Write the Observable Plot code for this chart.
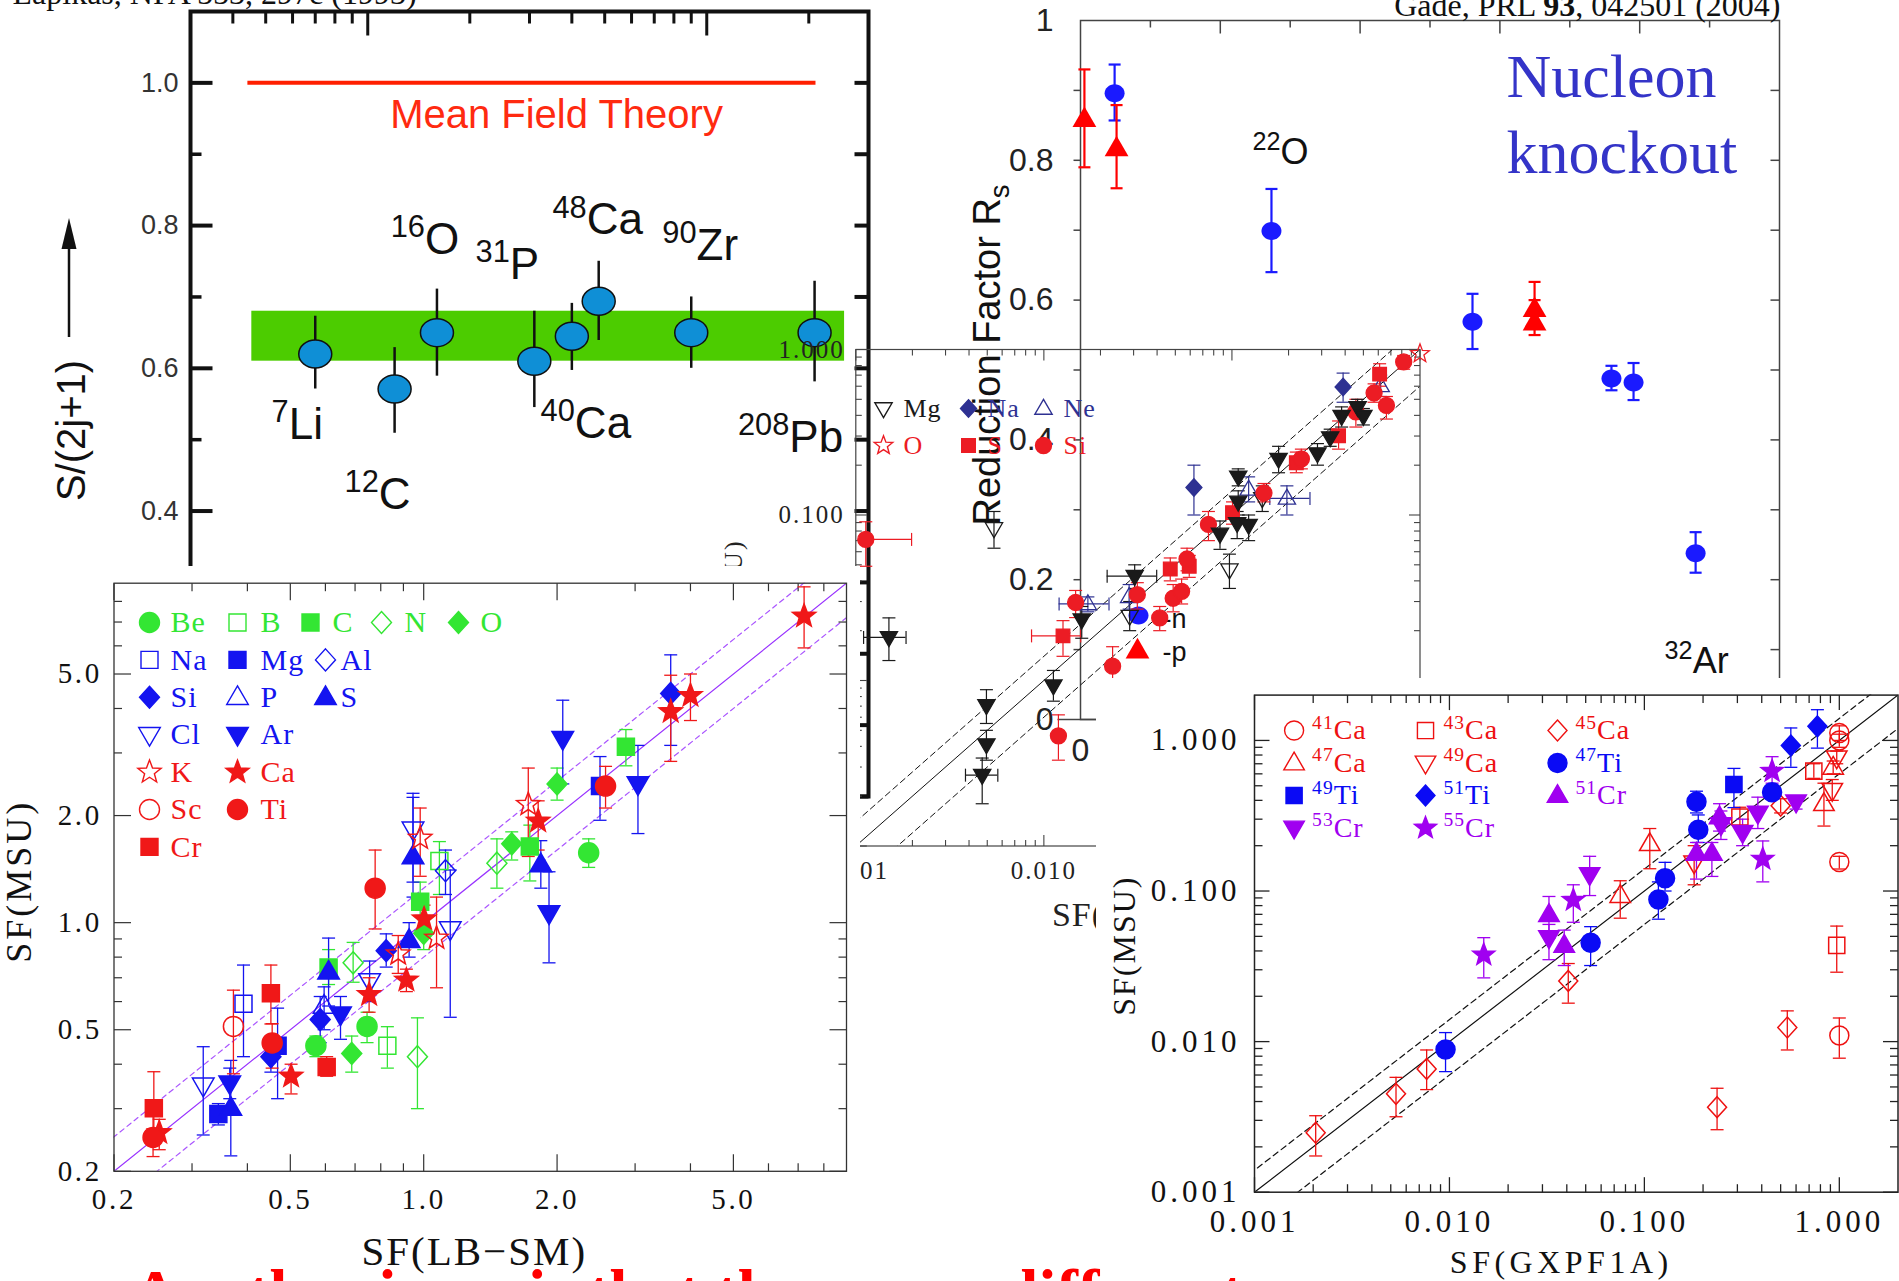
<!DOCTYPE html>
<html><head><meta charset="utf-8">
<script src="https://cdn.jsdelivr.net/npm/d3@7"></script>
<script src="https://cdn.jsdelivr.net/npm/@observablehq/plot@0.6"></script>
<style>
body{margin:0;background:#fff;}
#page{position:relative;width:1899px;height:1281px;overflow:hidden;background:#fff;}
.layer{position:absolute;}
</style></head>
<body><div id="page"></div>
<script>
// ================= DATA =================
// Chart A : S/(2j+1) vs mass number (log)
const aNuclei = ["^7Li","^12C","^16O","^31P","^40Ca","^48Ca","^90Zr","^208Pb"];
const aMass   = [7, 12, 16, 31, 40, 48, 90, 208];
const aSF     = [0.620, 0.571, 0.650, 0.610, 0.645, 0.694, 0.650, 0.650];
const aLo     = [0.571, 0.509, 0.589, 0.545, 0.597, 0.639, 0.600, 0.581];
const aHi     = [0.673, 0.629, 0.711, 0.680, 0.691, 0.750, 0.700, 0.722];
const aBand   = [0.61, 0.68];
const aBandA  = [4.55, 255];
const aMFT    = 1.0;
const aMFTA   = [4.43, 210];
const aYTicks = [0, 0.2, 0.4, 0.6, 0.8, 1.0];
const aYMinor = [0.1, 0.3, 0.5, 0.7, 0.9];
const aXMajor = [10, 100];
const aXMinor = [4,5,6,7,8,9,20,30,40,50,60,70,80,90,200];

// Chart B : reduction factor (knockout)
const bNx  = [1.22, 6.83, 14.02, 18.99, 19.78, 22.0];
const bNy  = [0.896, 0.699, 0.569, 0.488, 0.482, 0.238];
const bNlo = [0.857, 0.640, 0.530, 0.471, 0.457, 0.210];
const bNhi = [0.937, 0.759, 0.609, 0.506, 0.510, 0.268];
const bPx  = [0.14, 1.29, 16.24, 16.24];
const bPy  = [0.859, 0.817, 0.587, 0.568];
const bPlo = [0.790, 0.760, 0.565, 0.550];
const bPhi = [0.930, 0.879, 0.626, 0.600];
const bYTicks = [0, 0.2, 0.4, 0.6, 0.8, 1];
const bXMajor = [5, 10, 15, 20];
const bXMinor = [2.5, 7.5, 12.5, 17.5, 22.5];
const bYMinor = [0.1,0.2,0.3,0.4,0.5,0.6,0.7,0.8,0.9];

// Chart C : sd-shell log-log  [species, x, y, ylo, yhi, xlo, xhi]
const cPoints = [
 ["Si",0.00113,0.0712,0.049,0.091,0.00113,0.00198],
 ["Si",0.01195,0.00463,0.0033,0.0062],
 ["Si",0.01475,0.0296,0.024,0.035],
 ["Si",0.0232,0.0122,0.0095,0.016],
 ["Si",0.0314,0.033,0.027,0.039],
 ["Si",0.0413,0.0239,0.020,0.028],
 ["Si",0.0487,0.0314,0.026,0.038],
 ["Si",0.054,0.0346,0.029,0.041],
 ["Si",0.0577,0.0542,0.046,0.063],
 ["Si",0.075,0.0877,0.070,0.105],
 ["Si",0.148,0.1358,0.120,0.155],
 ["Si",0.234,0.218,0.190,0.250],
 ["Si",0.456,0.420,0.340,0.500],
 ["Si",0.570,0.546,0.480,0.620],
 ["Si",0.663,0.459,0.380,0.520],
 ["Si",0.819,0.841,0.760,0.920],
 ["S",0.01264,0.0186,0.014,0.023,0.0086,0.0157],
 ["S",0.047,0.0472,0.040,0.055],
 ["S",0.0593,0.049,0.042,0.057],
 ["S",0.1007,0.1034,0.088,0.120],
 ["S",0.220,0.207,0.180,0.240],
 ["S",0.369,0.301,0.250,0.370],
 ["S",0.610,0.710,0.600,0.820],
 ["O",1.0,0.943,0.943,0.943],
 ["Mg",0.00543,0.0829,0.063,0.105],
 ["Mg",0.0286,0.0245,0.020,0.030],
 ["Mg",0.097,0.0467,0.036,0.058],
 ["Mg",0.145,0.126,0.105,0.150],
 ["Na",0.0628,0.1464,0.100,0.200],
 ["Na",0.390,0.594,0.480,0.720],
 ["Ne",0.01714,0.029,0.026,0.032,0.01205,0.0222],
 ["Ne",0.0284,0.032,0.027,0.038],
 ["Ne",0.1227,0.1428,0.120,0.170],
 ["Ne",0.196,0.126,0.100,0.150,0.159,0.260],
 ["Ne",0.618,0.603,0.520,0.700],
 ["other",0.0015,0.0182,0.0132,0.0239,0.0011,0.00185],
 ["other",0.00495,0.00706,0.0055,0.0088],
 ["other",0.00495,0.0041,0.0033,0.0050],
 ["other",0.0047,0.00268,0.0018,0.0034,0.00383,0.00569],
 ["other",0.01124,0.0093,0.0075,0.0115],
 ["other",0.0159,0.0233,0.018,0.028],
 ["other",0.0304,0.0427,0.036,0.050,0.0217,0.0398],
 ["other",0.0864,0.0768,0.062,0.092],
 ["other",0.1066,0.0891,0.072,0.105],
 ["other",0.1227,0.0867,0.070,0.100],
 ["other",0.108,0.120,0.100,0.140],
 ["other",0.108,0.170,0.150,0.190],
 ["other",0.177,0.2177,0.180,0.260],
 ["other",0.285,0.235,0.200,0.270],
 ["other",0.333,0.2936,0.260,0.330],
 ["other",0.383,0.395,0.340,0.450],
 ["other",0.466,0.447,0.390,0.500],
 ["other",0.500,0.395,0.350,0.440]
];
const cLegend = ["Mg","Na","Ne","O","S","Si"];
const cTicks = [0.001, 0.01, 0.1, 1];
const cRatios = [1, 1.4, 0.6];

// Chart D : SF(MSU) vs SF(LB-SM)  [species, x, y, ylo, yhi]
const dPoints = [
 ["Be",0.571,0.451,0.42,0.48],["Be",0.745,0.511,0.46,0.56],["Be",2.357,1.572,1.43,1.72],
 ["B",0.828,0.451,0.39,0.51],["B",1.085,1.49,1.20,1.69],
 ["C",0.610,0.748,0.67,0.84],["C",0.982,1.145,0.95,1.30],["C",1.736,1.637,1.31,1.88],["C",2.86,3.12,2.76,3.49],
 ["N",0.693,0.771,0.68,0.88],["N",1.463,1.469,1.25,1.72],["N",0.968,0.420,0.30,0.54],
 ["O",0.688,0.429,0.38,0.48],["O",1.0,0.933,0.84,1.02],["O",1.58,1.666,1.50,1.80],["O",2.0,2.455,2.21,2.72],
 ["Na",0.392,0.592,0.42,0.76],
 ["Mg",0.344,0.290,0.27,0.31],["Mg",0.468,0.451,0.32,0.575],["Mg",2.50,2.42,1.94,2.93],
 ["Al",1.12,1.40,1.20,1.60],
 ["Si",0.452,0.420,0.38,0.46],["Si",0.584,0.534,0.46,0.62],["Si",0.823,0.834,0.75,0.93],["Si",3.61,4.41,3.15,5.66],
 ["P",0.596,0.583,0.50,0.66],
 ["S",0.367,0.301,0.221,0.41],["S",0.610,0.727,0.583,0.905],["S",0.927,0.892,0.80,1.0],["S",0.946,1.535,1.18,2.31],["S",1.838,1.456,1.25,1.70],
 ["Cl",0.318,0.349,0.253,0.448],["Cl",0.755,0.686,0.60,0.78],["Cl",0.946,1.83,1.30,2.25],["Cl",1.148,0.96,0.542,1.406],
 ["Ar",0.365,0.354,0.32,0.39],["Ar",0.649,0.553,0.47,0.62],["Ar",1.918,1.064,0.771,1.39],["Ar",2.06,3.29,2.455,4.22],["Ar",3.045,2.455,1.78,3.15],
 ["K",1.722,2.15,1.535,2.72],["K",0.982,1.727,1.35,2.10],["K",0.876,0.817,0.72,0.92],["K",1.069,0.905,0.656,1.18],
 ["Ca",0.253,0.257,0.23,0.28],["Ca",0.502,0.370,0.33,0.40],["Ca",0.753,0.628,0.56,0.70],["Ca",0.914,0.689,0.64,0.74],
 ["Ca",1.002,1.024,0.93,1.12],["Ca",1.813,1.93,1.60,2.20],["Ca",3.61,3.92,2.84,4.96],["Ca",4.0,4.35,3.70,5.0],["Ca",7.22,7.27,5.92,8.79],
 ["Sc",0.372,0.511,0.376,0.646],
 ["Ti",0.245,0.249,0.22,0.29],["Ti",0.455,0.459,0.39,0.52],["Ti",0.777,1.25,0.96,1.60],["Ti",2.573,2.42,2.10,2.75],
 ["Cr",0.246,0.301,0.249,0.381],["Cr",0.452,0.633,0.519,0.76],["Cr",0.604,0.393,0.37,0.42]
];
const dLegend = ["Be","B","C","N","O","Na","Mg","Al","Si","P","S","Cl","Ar","K","Ca","Sc","Ti","Cr"];
const dTickLabels = [0.2, 0.5, 1, 2, 5];
const dMinor = [0.3,0.4,0.6,0.7,0.8,0.9,3,4,6,7,8];
const dRatios = [1, 1.25, 0.8];

// Chart E : SF(MSU) vs SF(GXPF1A)  [species, x, y, ylo, yhi]
const ePoints = [
 ["41Ca",1.0,1.12,1.0,1.25],["41Ca",1.0,1.0,0.9,1.1],["41Ca",1.0,0.156,0.14,0.17],["41Ca",1.0,0.011,0.00776,0.01435],
 ["43Ca",0.74,0.625,0.56,0.70],["43Ca",0.309,0.31,0.27,0.36],["43Ca",0.97,0.0436,0.0289,0.0585],
 ["45Ca",0.00206,0.00248,0.00174,0.00322],["45Ca",0.00532,0.0045,0.00317,0.00579],["45Ca",0.00764,0.00659,0.0048,0.0088],
 ["45Ca",0.0407,0.0253,0.018,0.033],["45Ca",0.236,0.00367,0.0026,0.0049],["45Ca",0.5,0.369,0.33,0.41],["45Ca",0.541,0.0124,0.0088,0.016],
 ["47Ca",0.1066,0.206,0.1406,0.26],["47Ca",0.0752,0.0933,0.066,0.117],["47Ca",0.834,0.38,0.27,0.52],["47Ca",0.93,0.663,0.60,0.73],
 ["49Ca",0.97,0.767,0.70,0.85],["49Ca",0.92,0.467,0.40,0.55],["49Ca",0.18,0.154,0.11,0.20],
 ["47Ti",0.00955,0.00887,0.00632,0.01148],["47Ti",0.053,0.0454,0.032,0.058],["47Ti",0.118,0.088,0.065,0.115],
 ["47Ti",0.1277,0.1215,0.10,0.155],["47Ti",0.185,0.391,0.33,0.46],["47Ti",0.189,0.255,0.21,0.32],["47Ti",0.452,0.453,0.41,0.50],
 ["49Ti",0.288,0.51,0.358,0.652],
 ["51Ti",0.564,0.926,0.663,1.21],["51Ti",0.772,1.24,0.889,1.60],
 ["51Cr",0.0324,0.0697,0.05,0.092],["51Cr",0.0388,0.0436,0.032,0.055],["51Cr",0.185,0.178,0.12,0.21],["51Cr",0.222,0.178,0.125,0.21],["51Cr",0.243,0.31,0.25,0.38],
 ["53Cr",0.0324,0.049,0.035,0.06],["53Cr",0.0524,0.1288,0.0933,0.17],["53Cr",0.247,0.276,0.22,0.34],["53Cr",0.319,0.245,0.20,0.30],["53Cr",0.382,0.329,0.26,0.42],["53Cr",0.6,0.391,0.35,0.43],
 ["55Cr",0.015,0.0377,0.0265,0.049],["55Cr",0.0432,0.087,0.062,0.11],["55Cr",0.405,0.163,0.115,0.215],["55Cr",0.452,0.625,0.52,0.78]
];
const eLegend = ["41Ca","43Ca","45Ca","47Ca","49Ca","47Ti","49Ti","51Ti","51Cr","53Cr","55Cr"];
const eTicks = [0.001, 0.01, 0.1, 1];
const eRatios = [1, 1.4, 0.6];

// ================= STYLE / LAYOUT =================
const SANS = "Liberation Sans, Arial, sans-serif";
const SERIF = "Liberation Serif, Times New Roman, serif";
const fmt1 = d3.format(".1f"), fmt3 = d3.format(".3f");
const page = document.getElementById("page");

const G = "#33e633", BL = "#1414f0", RD = "#f01818";
const dSpec = {Be:["circle",G,1],B:["square",G,0],C:["square",G,1],N:["diamond",G,0],O:["diamond",G,1],
  Na:["square",BL,0],Mg:["square",BL,1],Al:["diamond",BL,0],Si:["diamond",BL,1],P:["up",BL,0],S:["up",BL,1],Cl:["down",BL,0],Ar:["down",BL,1],
  K:["star",RD,0],Ca:["star",RD,1],Sc:["circle",RD,0],Ti:["circle",RD,1],Cr:["square",RD,1]};
const CR = "#ec1c24", CN = "#2e3192", CK = "#1a1a1a";
const cSpec = {Mg:["down",CK,0],Na:["diamond",CN,1],Ne:["up",CN,0],O:["star",CR,0],S:["square",CR,1],Si:["circle",CR,1],other:["down",CK,1]};
const ER = "#ee1111", EB = "#0a0af5", EP = "#a000f0";
const eSpec = {"41Ca":["circle",ER,0],"43Ca":["square",ER,0],"45Ca":["diamond",ER,0],"47Ca":["up",ER,0],"49Ca":["down",ER,0],
  "47Ti":["circle",EB,1],"49Ti":["square",EB,1],"51Ti":["diamond",EB,1],"51Cr":["up",EP,1],"53Cr":["down",EP,1],"55Cr":["star",EP,1]};

function seg(dx, dy){ return {draw(c){ c.moveTo(0,0); c.lineTo(dx,dy); }}; }
function hcap(w){ return {draw(c){ c.moveTo(-w/2,0); c.lineTo(w/2,0); }}; }
function vcap(h){ return {draw(c){ c.moveTo(0,-h/2); c.lineTo(0,h/2); }}; }
function ellipse(rx, ry){ const k=0.5523; return {draw(c){
  c.moveTo(rx,0); c.bezierCurveTo(rx,ry*k,rx*k,ry,0,ry); c.bezierCurveTo(-rx*k,ry,-rx,ry*k,-rx,0);
  c.bezierCurveTo(-rx,-ry*k,-rx*k,-ry,0,-ry); c.bezierCurveTo(rx*k,-ry,rx,-ry*k,rx,0); c.closePath(); }}; }
function shape(kind, s){ return {draw(c){
  if (kind==="circle"){ c.moveTo(s,0); c.arc(0,0,s,0,2*Math.PI); c.closePath(); }
  else if (kind==="square"){ const h=s*0.85; c.moveTo(-h,-h); c.lineTo(h,-h); c.lineTo(h,h); c.lineTo(-h,h); c.closePath(); }
  else if (kind==="diamond"){ c.moveTo(0,-s*1.1); c.lineTo(s,0); c.lineTo(0,s*1.1); c.lineTo(-s,0); c.closePath(); }
  else if (kind==="up"){ c.moveTo(0,-s*1.15); c.lineTo(s*1.08,s*0.72); c.lineTo(-s*1.08,s*0.72); c.closePath(); }
  else if (kind==="down"){ c.moveTo(0,s*1.15); c.lineTo(s*1.08,-s*0.72); c.lineTo(-s*1.08,-s*0.72); c.closePath(); }
  else if (kind==="star"){ const R=s*1.22, r=R*0.42; for(let i=0;i<10;i++){ const a=-Math.PI/2+i*Math.PI/5, rr=i%2?r:R; const x=rr*Math.cos(a), y=rr*Math.sin(a); if(i) c.lineTo(x,y); else c.moveTo(x,y);} c.closePath(); }
}}; }

function tk(vals, axis, edge, dx, dy, o){
  return axis==="x" ? Plot.dot(vals, {x:d=>d, y:edge, symbol:seg(dx,dy), fill:"none", ...o})
                    : Plot.dot(vals, {y:d=>d, x:edge, symbol:seg(dx,dy), fill:"none", ...o});
}
function boxTicks(xDom, yDom, xMaj, xMin, yMaj, yMin, L1, L2, o){
  return [
    tk(xMaj,"x",yDom[0],0,-L1,o), tk(xMin,"x",yDom[0],0,-L2,o),
    tk(xMaj,"x",yDom[1],0,L1,o),  tk(xMin,"x",yDom[1],0,L2,o),
    tk(yMaj,"y",xDom[0],L1,0,o),  tk(yMin,"y",xDom[0],L2,0,o),
    tk(yMaj,"y",xDom[1],-L1,0,o), tk(yMin,"y",xDom[1],-L2,0,o)];
}
function decadeMinor(d0, d1){
  const out=[]; for(let e=Math.floor(Math.log10(d0)); e<=Math.ceil(Math.log10(d1)); e++)
    for(let k=2;k<10;k++){ const v=+(k*10**e).toPrecision(6); if(v>d0*1.001 && v<d1*0.999) out.push(v); }
  return out;
}
function seriesMarks(rows, spec, s, capW, ebw, sw){
  const m=[];
  for (const key of Object.keys(spec)){
    const [kind,color,filled]=spec[key];
    const R=rows.filter(r=>r[0]===key); if(!R.length) continue;
    const E=R.filter(r=>r[3]!==r[4]);
    const o={stroke:color, strokeWidth:ebw, fill:"none"};
    m.push(Plot.ruleX(E,{x:r=>r[1],y1:r=>r[3],y2:r=>r[4],stroke:color,strokeWidth:ebw}));
    m.push(Plot.dot(E,{x:r=>r[1],y:r=>r[3],symbol:hcap(capW),...o}));
    m.push(Plot.dot(E,{x:r=>r[1],y:r=>r[4],symbol:hcap(capW),...o}));
    const H=R.filter(r=>r.length>5);
    m.push(Plot.ruleY(H,{y:r=>r[2],x1:r=>r[5],x2:r=>r[6],stroke:color,strokeWidth:ebw}));
    m.push(Plot.dot(H,{x:r=>r[5],y:r=>r[2],symbol:vcap(capW),...o}));
    m.push(Plot.dot(H,{x:r=>r[6],y:r=>r[2],symbol:vcap(capW),...o}));
  }
  for (const key of Object.keys(spec)){
    const [kind,color,filled]=spec[key];
    const R=rows.filter(r=>r[0]===key); if(!R.length) continue;
    m.push(Plot.dot(R,{x:r=>r[1],y:r=>r[2],symbol:shape(kind,s),fill:filled?color:"none",stroke:color,strokeWidth:sw}));
  }
  return m;
}
function legendMarks(items, spec, pos, s, fontSize, ls, labelOf){
  const m=[];
  items.forEach((key,i)=>{
    const [kind,color,filled]=spec[key]; const [mx,tx,my]=pos[i];
    m.push(Plot.dot([0],{frameAnchor:"top-left",dx:mx,dy:my,symbol:shape(kind,s),fill:filled?color:"none",stroke:color,strokeWidth:1.4}));
    m.push(Plot.text([labelOf(key)],{frameAnchor:"top-left",dx:tx,dy:my,text:d=>d,textAnchor:"start",lineAnchor:"middle",fill:color,fontFamily:SERIF,fontSize,ariaDescription:"ls"+ls}));
  });
  return m;
}
function rich(root){
  root.querySelectorAll("text").forEach(t=>{
    const s=t.textContent;
    if(!/[\^_]|\*\*/.test(s)) return;
    const fs=parseFloat(getComputedStyle(t).fontSize)||16;
    const parts=s.match(/\^\d+|_\w|\*\*[^*]+\*\*|[^\^_*]+/g);
    t.textContent=""; let shift=0;
    for(const p of parts){
      const ts=document.createElementNS("http://www.w3.org/2000/svg","tspan");
      let target=0, txt=p, size=null, bold=false;
      if(p[0]==="^"){ txt=p.slice(1); target=-0.38*fs; size=0.7*fs; }
      else if(p[0]==="_"){ txt=p.slice(1); target=0.24*fs; size=0.72*fs; }
      else if(p.startsWith("**")){ txt=p.slice(2,-2); bold=true; }
      const dy=target-shift; shift=target;
      if(dy) ts.setAttribute("dy",dy);
      if(size) ts.setAttribute("font-size",size);
      if(bold) ts.setAttribute("font-weight","bold");
      ts.textContent=txt; t.appendChild(ts);
    }
  });
}
function spacing(root){
  root.querySelectorAll('[aria-description^="ls"]').forEach(g=>{
    const v=g.getAttribute("aria-description").slice(2)+"px";
    g.style.letterSpacing=v;
    g.querySelectorAll("text").forEach(t=>t.style.letterSpacing=v);
  });
}
function render(box, opts, after){
  const div=document.createElement("div"); div.className="layer";
  Object.assign(div.style,{left:box[0]+"px",top:box[1]+"px",width:box[2]+"px",height:box[3]+"px"});
  if(opts.style.background==="white") div.style.background="white";
  page.appendChild(div);
  const svg=Plot.plot({width:box[2],height:box[3],...opts});
  div.appendChild(svg);
  rich(svg); spacing(svg);
  if(after) after(svg);
}

// ================= CHART A =================
const aIdx = d3.range(aMass.length);
const aLabelOff = [[-18,85],[-17,120],[-12,-79],[-27,-82],[14,102],[-1,-67],[9,-73],[-24,119]];
const aK = {stroke:"#111"};
render([0,0,900,810],{
  marginLeft:190, marginTop:11, marginRight:32, marginBottom:14,
  x:{type:"log",domain:[3,300],axis:null}, y:{domain:[0,1.1],axis:null},
  style:{background:"white",overflow:"visible",fontFamily:SANS},
  marks:[
    Plot.rect([aBand],{x1:()=>aBandA[0],x2:()=>aBandA[1],y1:d=>d[0],y2:d=>d[1],fill:"#4ccc00"}),
    Plot.ruleY([aMFT],{y:d=>d,x1:()=>aMFTA[0],x2:()=>aMFTA[1],stroke:"#ff1f00",strokeWidth:4}),
    Plot.frame({stroke:"#111",strokeWidth:4}),
    tk(aXMajor,"x",1.1,0,24,{...aK,strokeWidth:3}),
    tk(aXMinor,"x",1.1,0,12,{...aK,strokeWidth:3}),
    tk(aYTicks,"y",3,22,0,{...aK,strokeWidth:4}),
    tk(aYMinor,"y",3,11,0,{...aK,strokeWidth:3.5}),
    tk(aYTicks.concat(aYMinor),"y",300,-14,0,{...aK,strokeWidth:4}),
    Plot.text(aYTicks,{x:3,y:d=>d,text:fmt1,textAnchor:"end",dx:-12,fontSize:27,fill:"#333"}),
    Plot.ruleX(aIdx,{x:i=>aMass[i],y1:i=>aLo[i],y2:i=>aHi[i],stroke:"#111",strokeWidth:2.5}),
    Plot.dot(aIdx,{x:i=>aMass[i],y:i=>aSF[i],symbol:ellipse(16.5,14),fill:"#0f8fd6",stroke:"#111",strokeWidth:1.5}),
    ...aIdx.map(i=>Plot.text([i],{x:j=>aMass[j],y:j=>aSF[j],text:j=>aNuclei[j],dx:aLabelOff[i][0],dy:aLabelOff[i][1],lineAnchor:"bottom",fontSize:44,fill:"#111"})),
    Plot.text(["Mean Field Theory"],{frameAnchor:"top",dx:27,dy:104,lineAnchor:"middle",textAnchor:"middle",text:d=>d,fill:"#ff2a10",fontSize:40}),
    Plot.text(["S/(2j+1)"],{frameAnchor:"left",rotate:-90,dx:-118,dy:26.5,textAnchor:"middle",lineAnchor:"middle",text:d=>d,fontSize:40,fill:"#111"}),
    Plot.text(["Lapikas, NPA 553, 297c (1993)"],{frameAnchor:"top-left",dx:-178,dy:-8,lineAnchor:"bottom",textAnchor:"start",text:d=>d,fontFamily:SERIF,fontSize:32,fill:"#111"})
  ]
}, svg=>{
  const s=d3.select(svg);
  s.append("line").attr("x1",69).attr("x2",69).attr("y1",337).attr("y2",244).attr("stroke","#111").attr("stroke-width",2.5);
  s.append("path").attr("d","M69,218L61.5,249L76.5,249Z").attr("fill","#111");
});

// ================= CHART B =================
const bNi=d3.range(bNx.length), bPi=d3.range(bPx.length);
const bK={stroke:"#444",strokeWidth:1.5};
render([940,0,959,770],{
  marginLeft:140, marginTop:20, marginRight:120, marginBottom:51,
  x:{domain:[0,25],axis:null}, y:{domain:[0,1],axis:null},
  style:{background:"transparent",overflow:"visible",fontFamily:SANS},
  marks:[
    Plot.frame(bK),
    tk(bXMajor,"x",1,0,13,bK), tk(bXMinor,"x",1,0,7,bK),
    tk(bYMinor,"y",25,-9,0,bK), tk(bYMinor,"y",0,-7,0,bK),
    tk([0],"y",0,-23,0,bK), tk([0],"y",0,20,0,bK),
    Plot.text(bYTicks,{x:0,y:d=>d,text:d=>d===0?"0":d===1?"1":fmt1(d),textAnchor:"end",dx:-27,fontSize:32,fill:"#222"}),
    Plot.text([0],{x:0,y:0,text:()=>"0",dy:31,lineAnchor:"middle",fontSize:32,fill:"#222"}),
    Plot.text(["Reduction Factor R_s"],{frameAnchor:"left",rotate:-90,dx:-93,dy:-15,textAnchor:"middle",lineAnchor:"middle",text:d=>d,fontSize:38,fill:"#111"}),
    Plot.text(["Gade, PRL **93**, 042501 (2004)"],{frameAnchor:"top-right",dx:1,dy:-5,textAnchor:"end",lineAnchor:"bottom",text:d=>d,fontFamily:SERIF,fontSize:32,fill:"#111"}),
    Plot.text(["Nucleon"],{frameAnchor:"top-left",dx:426,dy:76,textAnchor:"start",lineAnchor:"bottom",text:d=>d,fontFamily:SERIF,fontSize:62,fill:"#3434c8"}),
    Plot.text(["knockout"],{frameAnchor:"top-left",dx:426,dy:152,textAnchor:"start",lineAnchor:"bottom",text:d=>d,fontFamily:SERIF,fontSize:62,fill:"#3434c8"}),
    Plot.ruleX(bNi,{x:i=>bNx[i],y1:i=>bNlo[i],y2:i=>bNhi[i],stroke:"#1a1aff",strokeWidth:2.2}),
    Plot.dot(bNi,{x:i=>bNx[i],y:i=>bNlo[i],symbol:hcap(12),stroke:"#1a1aff",strokeWidth:2.2,fill:"none"}),
    Plot.dot(bNi,{x:i=>bNx[i],y:i=>bNhi[i],symbol:hcap(12),stroke:"#1a1aff",strokeWidth:2.2,fill:"none"}),
    Plot.ruleX(bPi,{x:i=>bPx[i],y1:i=>bPlo[i],y2:i=>bPhi[i],stroke:"#ff0000",strokeWidth:2.2}),
    Plot.dot(bPi,{x:i=>bPx[i],y:i=>bPlo[i],symbol:hcap(12),stroke:"#ff0000",strokeWidth:2.2,fill:"none"}),
    Plot.dot(bPi,{x:i=>bPx[i],y:i=>bPhi[i],symbol:hcap(12),stroke:"#ff0000",strokeWidth:2.2,fill:"none"}),
    Plot.dot(bNi,{x:i=>bNx[i],y:i=>bNy[i],symbol:ellipse(10,9),fill:"#1a1aff"}),
    Plot.dot(bPi,{x:i=>bPx[i],y:i=>bPy[i],symbol:shape("up",11),fill:"#ff0000"}),
    Plot.text([1],{x:i=>bNx[i],y:i=>bNy[i],text:()=>"^22O",dx:9,dy:-67,lineAnchor:"bottom",fontSize:36,fill:"#111"}),
    Plot.text([5],{x:i=>bNx[i],y:i=>bNy[i],text:()=>"^32Ar",dx:1,dy:120,lineAnchor:"bottom",fontSize:36,fill:"#111"}),
    Plot.dot([0],{frameAnchor:"top-left",dx:58,dy:595,symbol:ellipse(10,9),fill:"#1a1aff"}),
    Plot.text(["-n"],{frameAnchor:"top-left",dx:82,dy:607,textAnchor:"start",lineAnchor:"bottom",text:d=>d,fontSize:27,fill:"#111"}),
    Plot.dot([0],{frameAnchor:"top-left",dx:57,dy:630,symbol:shape("up",11),fill:"#ff0000"}),
    Plot.text(["-p"],{frameAnchor:"top-left",dx:82,dy:640,textAnchor:"start",lineAnchor:"bottom",text:d=>d,fontSize:27,fill:"#111"})
  ]
});

// ================= CHART C =================
const cDom=[0.001,1], cMin=decadeMinor(0.001,1);
const cLegPos=[[27.7,47.7,59],[112.7,131.7,59],[187.7,207.7,59],[27.7,47.7,96],[112.7,131.7,96],[187.7,207.7,96]];
render([700,330,740,600],{
  marginLeft:155.3, marginTop:19, marginRight:20.5, marginBottom:84.5,
  x:{type:"log",domain:cDom,axis:null}, y:{type:"log",domain:cDom,axis:null},
  style:{background:"transparent",overflow:"visible",fontFamily:SERIF},
  marks:[
    ...cRatios.map(k=>Plot.line([[1e-4,1e-4*k],[10,10*k]],{x:d=>d[0],y:d=>d[1],stroke:"#111",strokeWidth:1,strokeDasharray:k===1?"none":"6,4",clip:true})),
    Plot.frame({stroke:"#444",strokeWidth:1.2}),
    ...boxTicks(cDom,cDom,cTicks,cMin,cTicks,cMin,11,6,{stroke:"#444",strokeWidth:1.1}),
    Plot.text(cTicks,{x:0.001,y:d=>d,text:fmt3,textAnchor:"end",dx:-11,lineAnchor:"middle",fontSize:25,fill:"#222",ariaDescription:"ls2"}),
    Plot.text(cTicks,{x:d=>d,y:0.001,text:fmt3,dy:32.5,lineAnchor:"bottom",fontSize:25,fill:"#222",ariaDescription:"ls2"}),
    Plot.text(["SF(MSU)"],{frameAnchor:"left",rotate:-90,dx:-122,textAnchor:"middle",lineAnchor:"middle",text:d=>d,fontSize:26,fill:"#222",ariaDescription:"ls2"}),
    Plot.text(["SF(USD)"],{frameAnchor:"bottom",dx:-86,dy:79.5,textAnchor:"start",lineAnchor:"bottom",text:d=>d,fontSize:34,fill:"#222",ariaDescription:"ls1"}),
    ...seriesMarks(cPoints,cSpec,8,13,1.2,1.3),
    ...legendMarks(cLegend,cSpec,cLegPos,8,26,1,k=>k)
  ]
});

// ================= CHART D =================
const dDom=[0.2,9];
const dLegPos=[[35.5,56.5],[123.5,146.5],[196.5,218.5],[267.5,290.5],[344.5,366.5],
  [35.5,56.5],[123.5,146.5],[211.5,226.5],[35.5,56.5],[123.5,146.5],[211.5,226.5],
  [35.5,56.5],[123.5,146.5],[35.5,56.5],[123.5,146.5],[35.5,56.5],[123.5,146.5],[35.5,56.5]];
const dRows=[0,0,0,0,0,1,1,1,2,2,2,3,3,4,4,5,5,6];
render([0,566,860,715],{
  marginLeft:113.5, marginTop:16.7, marginRight:14, marginBottom:110.2,
  x:{type:"log",domain:dDom,axis:null}, y:{type:"log",domain:dDom,axis:null},
  style:{background:"white",overflow:"visible",fontFamily:SERIF},
  marks:[
    ...dRatios.map(k=>Plot.line([[0.01,0.01*k],[100,100*k]],{x:d=>d[0],y:d=>d[1],stroke:k===1?"#9933ff":"#aa55ff",strokeWidth:1.2,strokeDasharray:k===1?"none":"5,4",clip:true})),
    Plot.frame({stroke:"#333",strokeWidth:1.3}),
    ...boxTicks(dDom,dDom,dTickLabels,dMinor,dTickLabels,dMinor,17,8,{stroke:"#333",strokeWidth:1.2}),
    Plot.text(dTickLabels,{x:0.2,y:d=>d,text:fmt1,textAnchor:"end",dx:-12,lineAnchor:"middle",fontSize:29,fill:"#111",ariaDescription:"ls2.7"}),
    Plot.text(dTickLabels,{x:d=>d,y:0.2,text:fmt1,dy:38,lineAnchor:"bottom",fontSize:29,fill:"#111",ariaDescription:"ls2.7"}),
    Plot.text(["SF(LB\u2212SM)"],{frameAnchor:"bottom",dx:-6,dy:94,lineAnchor:"bottom",textAnchor:"middle",text:d=>d,fontSize:41,fill:"#111",ariaDescription:"ls2"}),
    Plot.text(["SF(MSU)"],{frameAnchor:"left",rotate:-90,dx:-94.5,dy:4,textAnchor:"middle",lineAnchor:"middle",text:d=>d,fontSize:36,fill:"#111",ariaDescription:"ls3"}),
    ...seriesMarks(dPoints,dSpec,10,13,1.3,1.5),
    ...legendMarks(dLegend,dSpec,dLegPos.map((p,i)=>[p[0],p[1],39.3+dRows[i]*37.4]),10,30,1,k=>k)
  ]
});

// ================= CHART E =================
const eDom=[0.001,2], eMin=decadeMinor(0.001,2);
const eLegPos=eLegend.map((k,i)=>{ const c=i%3, r=Math.floor(i/3); const mx=[39.6,171,303][c]; return [mx,mx+18,35.4+r*32.5]; });
render([1096,678,803,603],{
  marginLeft:158, marginTop:16.6, marginRight:1.5, marginBottom:89.3,
  x:{type:"log",domain:eDom,axis:null}, y:{type:"log",domain:eDom,axis:null},
  style:{background:"white",overflow:"visible",fontFamily:SERIF},
  marks:[
    ...eRatios.map(k=>Plot.line([[1e-4,1e-4*k],[10,10*k]],{x:d=>d[0],y:d=>d[1],stroke:"#111",strokeWidth:1.2,strokeDasharray:k===1?"none":"6,4",clip:true})),
    Plot.frame({stroke:"#222",strokeWidth:1.5}),
    ...boxTicks(eDom,eDom,eTicks,eMin,eTicks,eMin,15,8,{stroke:"#222",strokeWidth:1.3}),
    Plot.text(eTicks,{x:0.001,y:d=>d,text:fmt3,textAnchor:"end",dx:-14,lineAnchor:"middle",fontSize:31,fill:"#111",ariaDescription:"ls4"}),
    Plot.text(eTicks,{x:d=>d,y:0.001,text:fmt3,dy:39.3,lineAnchor:"bottom",fontSize:31,fill:"#111",ariaDescription:"ls4"}),
    Plot.text(["SF(GXPF1A)"],{frameAnchor:"bottom",dx:-15,dy:80.3,lineAnchor:"bottom",textAnchor:"middle",text:d=>d,fontSize:32,fill:"#111",ariaDescription:"ls4.5"}),
    Plot.text(["SF(MSU)"],{frameAnchor:"left",rotate:-90,dx:-130,dy:2,textAnchor:"middle",lineAnchor:"middle",text:d=>d,fontSize:32,fill:"#111",ariaDescription:"ls2"}),
    ...seriesMarks(ePoints,eSpec,9.5,13,1.3,1.5),
    ...legendMarks(eLegend,eSpec,eLegPos,9.5,28,1,k=>"^"+k.match(/^\d+/)[0]+k.replace(/^\d+/,""))
  ]
});

// ================= bottom caption (clipped) =================
const cap=document.createElement("div"); cap.className="layer";
Object.assign(cap.style,{left:"0px",top:"1200px",width:"1300px",height:"81px"});
cap.innerHTML='<svg width="1300" height="81"><text x="132" y="115" fill="#ff0000" font-family="Liberation Serif, serif" font-weight="bold" font-size="65">Another issue is that these <tspan x="1002">different</tspan></text></svg>';
page.appendChild(cap);
</script>
</body></html>
